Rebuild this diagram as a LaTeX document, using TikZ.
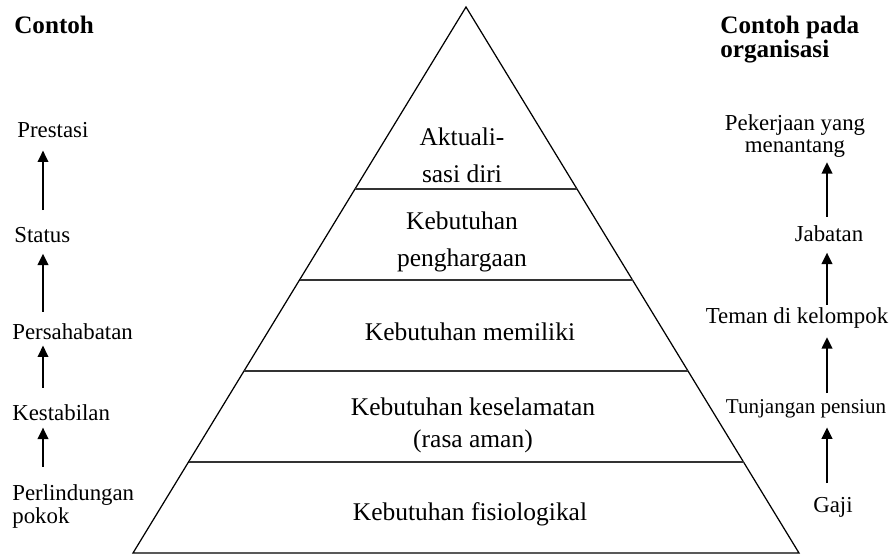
\documentclass[tikz,border=0pt]{standalone}
\usepackage{fontspec}
\setmainfont{Liberation Serif}
\usetikzlibrary{calc,arrows.meta,positioning}

\begin{document}
\begin{tikzpicture}[x=0.02cm, y=-0.02cm,
    every node/.style={inner sep=0pt, anchor=base, font=\fontsize{13}{13}\selectfont},
    head/.style={anchor=base west, align=left, font=\fontsize{14.3}{14.2}\selectfont\bfseries},
    lvl/.style={align=center, font=\fontsize{14.5}{20.5}\selectfont},
    up/.style={-{Triangle[width=6pt,length=6.5pt]}, line width=1.1pt}]
  \useasboundingbox (0,0) rectangle (895,554);
  % pyramid
  \coordinate (top) at (466,7);
  \coordinate (bl) at (133,553);
  \coordinate (br) at (799,553);
  \draw[line width=0.7pt] (bl) -- (top) -- (br) -- cycle;
  \foreach \t in {2,3,4,5} {
    \draw[line width=1pt, black!80] ($(top)!\t/6!(bl)$) -- ($(top)!\t/6!(br)$);
  }
  \node[lvl, font=\fontsize{14.5}{21}\selectfont] (self) at (462,182) {Aktuali-\\sasi diri};
  \node[lvl] (esteem) at (462,266) {Kebutuhan\\penghargaan};
  \node[lvl] (social) at (470,340) {Kebutuhan memiliki};
  \node[lvl, font=\fontsize{14.5}{18.2}\selectfont] (safety) at (473,447) {Kebutuhan keselamatan\\(rasa aman)};
  \node[lvl] (physio) at (470,520) {Kebutuhan fisiologikal};

  % contoh
  \node[head] (lhead) at (14,34) {Contoh};
  \node[anchor=base west] (l5) at (17,137) {Prestasi};
  \node[anchor=base west] (l4) at (14,242) {Status};
  \node[anchor=base west] (l3) at (12,339) {Persahabatan};
  \node[anchor=base west] (l2) at (12,420) {Kestabilan};
  \node[anchor=base west, align=left] (l1) at (12,523) {Perlindungan\\pokok};
  \coordinate (lx) at (43,0);
  \foreach \a/\b/\s/\e in {l4/l5/9.4/7.4, l3/l4/6.3/6.3, l2/l3/9.1/3.4, l1/l2/9.7/4} {
    \draw[up, shorten <=\s pt, shorten >=\e pt] (\a.north -| lx) -- (\b.south -| lx);
  }

  % contoh pada organisasi
  \node[head] (rhead) at (720,58) {Contoh pada\\organisasi};
  \node[align=center, font=\fontsize{13}{12.5}\selectfont] (r5) at (795,152) {Pekerjaan yang\\menantang};
  \node (r4) at (829,241) {Jabatan};
  \node (r3) at (797,323) {Teman di kelompok};
  \node[font=\fontsize{12}{12}\selectfont] (r2) at (806,413) {Tunjangan pensiun};
  \node (r1) at (833,512) {Gaji};
  \coordinate (rx) at (827,0);
  \foreach \a/\b/\s/\e in {r4/r5/4.6/2.8, r3/r4/1.1/6.3, r2/r3/3.1/5.1, r1/r2/7.7/5.4} {
    \draw[up, shorten <=\s pt, shorten >=\e pt] (\a.north -| rx) -- (\b.south -| rx);
  }
\end{tikzpicture}
\end{document}
